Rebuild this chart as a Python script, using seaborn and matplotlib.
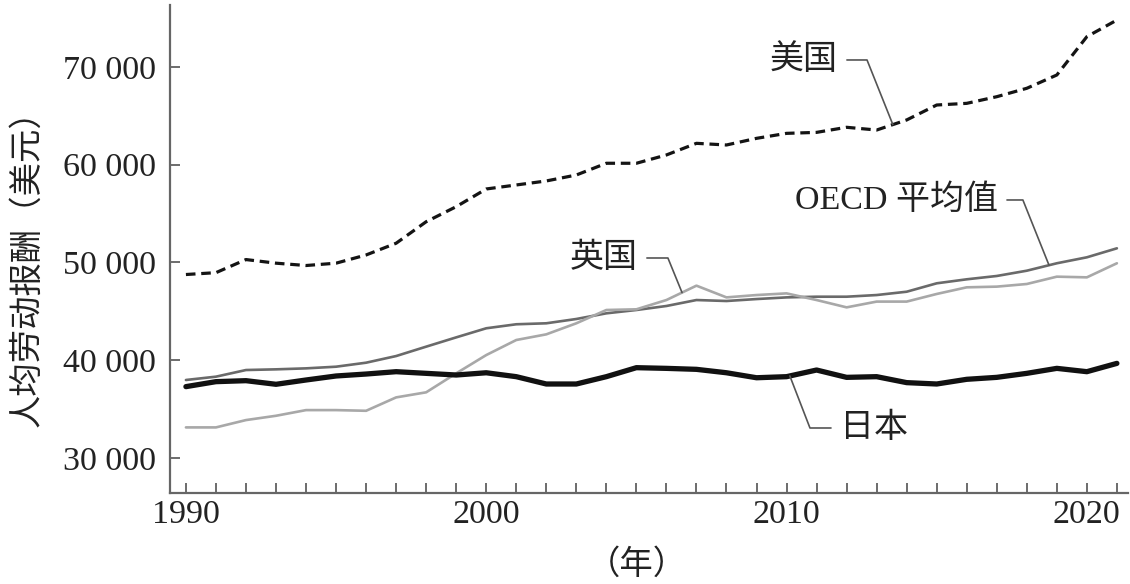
import numpy as np
import pandas as pd
import matplotlib
matplotlib.use("Agg")
import matplotlib.pyplot as plt
import seaborn as sns
from matplotlib.ticker import FuncFormatter, MultipleLocator

# data (per-capita labour compensation, USD)
years = list(range(1990, 2022))
usa = [48770, 48960, 50300, 49930, 49690, 49930, 50770, 51970, 54170, 55710,
       57520, 57930, 58340, 58950, 60150, 60150, 61000, 62190, 62020, 62700,
       63210, 63310, 63830, 63550, 64580, 66110, 66280, 66960, 67820, 69180,
       73100, 74800]
oecd = [37980, 38320, 39000, 39070, 39170, 39340, 39750, 40430, 41390, 42340,
        43270, 43680, 43780, 44220, 44800, 45140, 45550, 46160, 46060, 46260,
        46430, 46500, 46500, 46670, 47010, 47870, 48280, 48620, 49160, 49920,
        50530, 51450]
uk = [33130, 33130, 33880, 34320, 34900, 34900, 34830, 36200, 36720, 38660,
      40530, 42070, 42650, 43780, 45140, 45210, 46160, 47630, 46430, 46670,
      46840, 46160, 45410, 46000, 46000, 46780, 47460, 47530, 47800, 48550,
      48480, 49920]
japan = [37300, 37810, 37910, 37540, 37980, 38390, 38590, 38830, 38660, 38490,
         38720, 38320, 37570, 37570, 38320, 39240, 39170, 39070, 38720, 38210,
         38320, 39000, 38250, 38320, 37710, 37570, 38050, 38250, 38660, 39170,
         38830, 39680]
y_ticks = [30000, 40000, 50000, 60000, 70000]
x_ticks = [1990, 2000, 2010, 2020]

sns.set_theme(style="ticks")
plt.rcParams['font.family'] = ['Liberation Serif', 'Noto Sans CJK SC']
plt.rcParams['axes.unicode_minus'] = False

fig = plt.figure(figsize=(11.3, 5.84), dpi=100)
ax = fig.add_axes([170 / 1130, 91 / 584, 958 / 1130, 488 / 584])

df = pd.DataFrame({'year': years, '美国': usa, 'OECD 平均值': oecd,
                   '英国': uk, '日本': japan})

sns.lineplot(data=df, x='year', y='美国', ax=ax, color='#141414', lw=2.3,
             dashes=False, linestyle=(0, (3, 1.8)))
sns.lineplot(data=df, x='year', y='OECD 平均值', ax=ax, color='#6a6a6a', lw=1.9)
sns.lineplot(data=df, x='year', y='英国', ax=ax, color='#a8a8a8', lw=1.9)
sns.lineplot(data=df, x='year', y='日本', ax=ax, color='#111111', lw=3.8)

ax.set_xlim(1989.47, 2021.37)
ax.set_ylim(26420, 76340)
ax.set_xlabel('')
ax.set_ylabel('')
ax.set_xticks(x_ticks)
ax.xaxis.set_minor_locator(MultipleLocator(1))
ax.set_yticks(y_ticks)
ax.yaxis.set_major_formatter(FuncFormatter(lambda v, p: f"{int(v):,}".replace(',', ' ')))

for side in ['top', 'right']:
    ax.spines[side].set_visible(False)
for side in ['left', 'bottom']:
    ax.spines[side].set_color('#666666')
    ax.spines[side].set_linewidth(1.6)

ax.tick_params(axis='both', which='both', direction='in', length=7, width=1.1,
               color='#444444', labelsize=24.5, labelcolor='#222222')
ax.tick_params(axis='y', pad=10)
ax.tick_params(axis='x', pad=5)


def leader(label, series, text_x, text_y, corner_x, end_x, side='left'):
    end_y = np.interp(end_x, years, series)
    if side == 'left':
        # text on the left, horizontal stub then diagonal to the line
        ax.text(text_x, text_y, label, ha='right', va='center', fontsize=24.5,
                color='#222222', fontweight='light')
        xs = [text_x + 0.3, corner_x, end_x]
        ys = [text_y, text_y, end_y]
    else:
        # text on the right of a stub that comes down from the line
        ax.text(text_x, text_y, label, ha='left', va='center', fontsize=24.5,
                color='#222222', fontweight='light')
        xs = [end_x, corner_x, text_x - 0.3]
        ys = [end_y, text_y, text_y]
    ax.plot(xs, ys, color='#555555', lw=1.2)


leader('美国', usa, 2011.71, 70716, 2012.68, 2013.54)
leader('OECD 平均值', oecd, 2017.04, 56394, 2017.87, 2018.74)
leader('英国', uk, 2005.05, 50460, 2006.05, 2006.52)
leader('日本', japan, 2011.78, 33070, 2010.78, 2010.11, side='right')

fig.text(27 / 1130, 1 - 260 / 584, '人均劳动报酬（美元）', rotation=90,
         ha='center', va='center', fontsize=24, color='#222222', fontweight='light')
fig.text(637 / 1130, 1 - 565 / 584, '（年）', ha='center', va='center',
         fontsize=24, color='#222222', fontweight='light')

fig.savefig('out.png', dpi=100)
